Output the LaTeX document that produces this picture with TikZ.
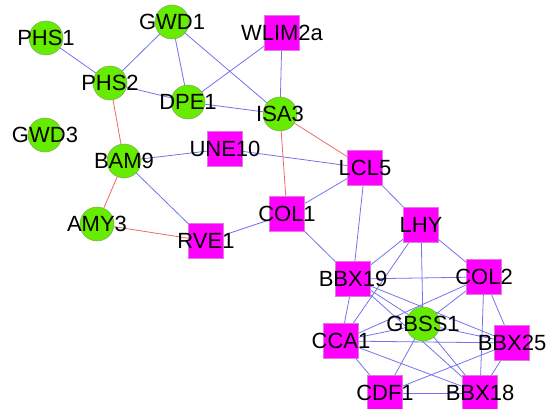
\documentclass[tikz,border=0pt]{standalone}
\usepackage{fontspec}
\setmainfont{Liberation Sans}
\usetikzlibrary{backgrounds}
\definecolor{genegreen}{RGB}{102,236,0}
\definecolor{greenrim}{RGB}{120,170,90}
\definecolor{genemag}{RGB}{255,0,255}
\definecolor{magrim}{RGB}{225,120,225}
\definecolor{linkblue}{RGB}{115,115,235}
\definecolor{linkred}{RGB}{240,105,105}
\begin{document}
\begin{tikzpicture}[x=1pt,y=-1pt,
  every label/.style={font=\fontsize{22}{26}\selectfont, inner sep=0pt, text=black},
  gcirc/.style={circle, fill=genegreen, draw=greenrim, line width=0.5pt,
                minimum size=34pt, inner sep=0pt, label={center:#1}},
  gsq/.style={rectangle, fill=genemag, draw=magrim, line width=0.5pt,
              minimum size=35pt, inner sep=0pt, label={center:#1}},
  bluelink/.style={draw=linkblue, line width=0.8pt},
  redlink/.style={draw=linkred, line width=0.8pt}]
\useasboundingbox (0,0) rectangle (549,409);

% genes (circles) and regulators (squares)
\node[gcirc=PHS1]   (PHS1)   at (46,38)   {};
\node[gcirc=GWD1]   (GWD1)   at (172,22)  {};
\node[gsq=WLIM2a]   (WLIM2a) at (282,33)  {};
\node[gcirc=PHS2]   (PHS2)   at (110,83)  {};
\node[gcirc=DPE1]   (DPE1)   at (188,102) {};
\node[gcirc=ISA3]   (ISA3)   at (280,114) {};
\node[gcirc=GWD3]   (GWD3)   at (45,135)  {};
\node[gcirc=BAM9]   (BAM9)   at (124,161) {};
\node[gsq=UNE10]    (UNE10)  at (225,149) {};
\node[gsq=LCL5]     (LCL5)   at (365,168) {};
\node[gsq=COL1]     (COL1)   at (287,214) {};
\node[gcirc=AMY3]   (AMY3)   at (97,224)  {};
\node[gsq=RVE1]     (RVE1)   at (206,241) {};
\node[gsq=LHY]      (LHY)    at (421,225) {};
\node[gsq=BBX19]    (BBX19)  at (353,279) {};
\node[gsq=COL2]     (COL2)   at (484,277) {};
\node[gcirc=GBSS1]  (GBSS1)  at (423,324) {};
\node[gsq=CCA1]     (CCA1)   at (341,341) {};
\node[gsq=BBX25]    (BBX25)  at (512,343) {};
\node[gsq=CDF1]     (CDF1)   at (385,393) {};
\node[gsq=BBX18]    (BBX18)  at (480,393) {};

\begin{pgfonlayer}{background}
  % co-expression links
  \foreach \a/\b in {PHS1/PHS2, PHS2/GWD1, PHS2/DPE1, GWD1/DPE1, GWD1/ISA3,
      DPE1/WLIM2a, DPE1/ISA3, WLIM2a/ISA3, BAM9/UNE10, UNE10/LCL5,
      BAM9/RVE1, RVE1/COL1, COL1/LCL5, COL1/BBX19, LCL5/BBX19, LCL5/LHY,
      LHY/BBX19, LHY/CCA1, LHY/GBSS1, LHY/COL2, BBX19/COL2, BBX19/GBSS1,
      BBX19/CCA1, BBX19/BBX25, BBX19/BBX18, COL2/GBSS1, COL2/CCA1,
      COL2/BBX25, COL2/BBX18, GBSS1/CCA1, GBSS1/BBX25, GBSS1/CDF1,
      GBSS1/BBX18, CCA1/BBX25, CCA1/CDF1, CCA1/BBX18, CDF1/BBX18,
      CDF1/BBX25, BBX25/BBX18}
    \draw[bluelink] (\a) -- (\b);
  % negative links
  \foreach \a/\b in {PHS2/BAM9, BAM9/AMY3, AMY3/RVE1, ISA3/COL1, ISA3/LCL5}
    \draw[redlink] (\a) -- (\b);
\end{pgfonlayer}
\end{tikzpicture}
\end{document}
